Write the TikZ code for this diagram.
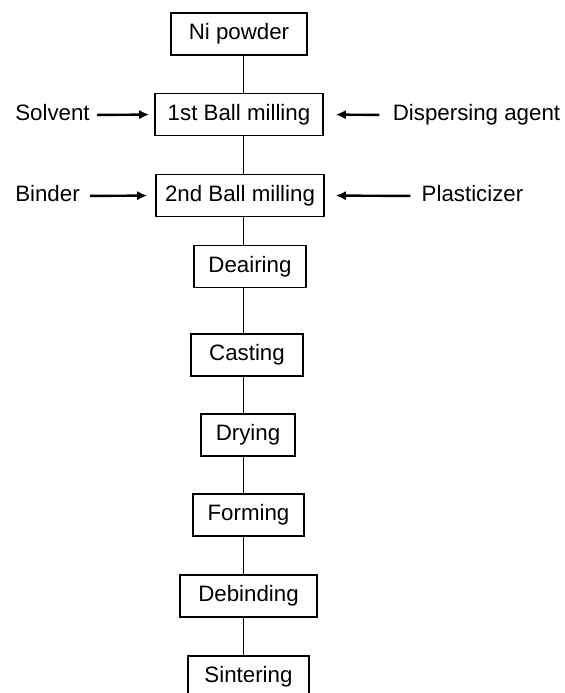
\documentclass[tikz,border=0pt]{standalone}
\usepackage{fontspec}
\setmainfont{Liberation Sans}
\usetikzlibrary{arrows.meta}

\begin{document}
\begin{tikzpicture}[x=0.5pt,y=-0.5pt,font=\fontsize{11.15}{13.4}\selectfont,
    stepbox/.style={draw,line width=0.8pt,minimum height=21pt,inner sep=0pt,text height=8.2pt,text depth=2.4pt},
    feedlabel/.style={inner sep=0pt,text height=8.2pt,text depth=2.4pt},
    feed/.style={line width=1.2pt,-{Latex[length=5pt,width=4.6pt]}}]
      \useasboundingbox (0,0) rectangle (565,693);
      \coordinate (spine) at (243.5,0);
      %this draws the nodes
      \node [stepbox,minimum width=68pt] (0) at (239,34) {Ni powder};
      \node [stepbox,minimum width=84pt] (1) at (239,114.5) {1st Ball milling};
      \node [stepbox,minimum width=84pt] (2) at (240,195.5) {2nd Ball milling};
      \node [stepbox,minimum width=56pt] (3) at (250,266.5) {Deairing};
      \node [stepbox,minimum width=56pt] (4) at (247,355) {Casting};
      \node [stepbox,minimum width=47pt] (5) at (248,435) {Drying};
      \node [stepbox,minimum width=55.5pt] (6) at (248.5,515) {Forming};
      \node [stepbox,minimum width=68.5pt] (7) at (248.5,596) {Debinding};
      \node [stepbox,minimum width=60.5pt] (8) at (248.5,677) {Sintering};
      %this draws the lines
      \foreach \x in {0,...,7}
        \pgfmathtruncatemacro{\nextnode}{\x + 1}
        \draw[line width=0.65pt] (\x.south -| spine) to (\nextnode.north -| spine) ;
      %this draws the additives
      \node [feedlabel] (solvent) at (52.5,115) {Solvent};
      \node [feedlabel] (dispersant) at (476.5,115) {Dispersing agent};
      \node [feedlabel] (binder) at (47.5,196) {Binder};
      \node [feedlabel] (plasticizer) at (472.5,196) {Plasticizer};
      \draw[feed,shorten <=3.5pt,shorten >=2.5pt] (solvent.east) -- (1.west);
      \draw[feed,shorten <=6.5pt,shorten >=6pt] (dispersant.west) -- (1.east);
      \draw[feed,shorten <=5pt,shorten >=4pt] (binder.east) -- (2.west);
      \draw[feed,shorten <=5.5pt,shorten >=5.5pt] (plasticizer.west) -- (2.east);
    \end{tikzpicture}
\end{document}
